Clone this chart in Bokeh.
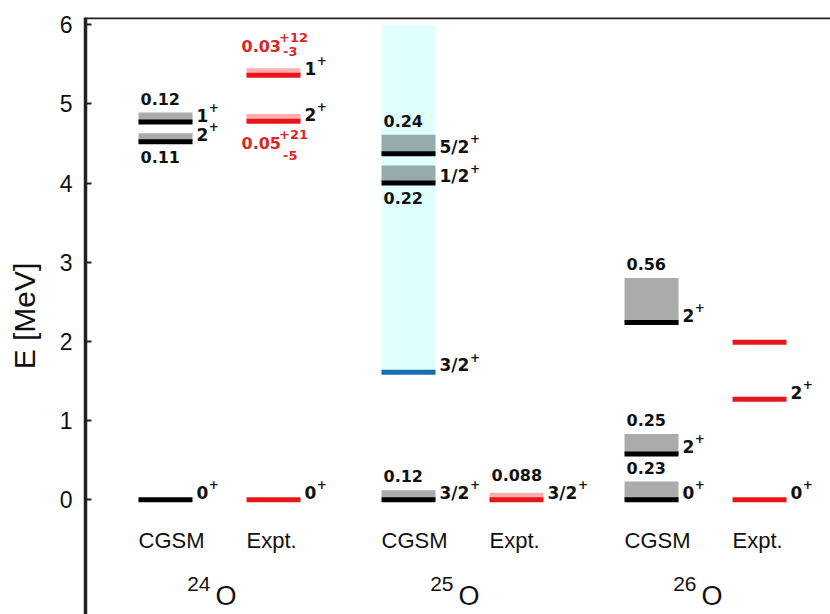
from bokeh.plotting import figure
from bokeh.models import Span, FixedTicker, Range1d
from bokeh.core.properties import value
from bokeh.embed import file_html
from bokeh.resources import INLINE

# ---- data -------------------------------------------------------------
# column centres: (24O CGSM, 24O Expt, 25O CGSM, 25O Expt, 26O CGSM, 26O Expt)
column_x = [0.0, 1.0, 2.25, 3.25, 4.5, 5.5]
column_titles = ["CGSM", "Expt.", "CGSM", "Expt.", "CGSM", "Expt."]
mass_numbers = ["24", "25", "26"]
y_ticks = [0, 1, 2, 3, 4, 5, 6]

# CGSM levels: column index, energy [MeV], width [MeV], spin
cgsm_column = [0, 0, 0, 2, 2, 2, 4, 4, 4]
cgsm_energy = [0.0, 4.52, 4.77, 0.0, 4.00, 4.37, 0.0, 0.58, 2.24]
cgsm_width = [0.0, 0.11, 0.12, 0.12, 0.22, 0.24, 0.23, 0.25, 0.56]
cgsm_spin = ["0", "2", "1", "3/2", "1/2", "5/2", "0", "2", "2"]

# broad 3/2+ resonance of 25O
broad_column = [2]
broad_energy = [1.61]
broad_width = [4.39]
broad_spin = ["3/2"]

# experimental levels
expt_column = [1, 1, 1, 3, 5, 5, 5]
expt_energy = [0.0, 4.78, 5.36, 0.0, 0.0, 1.27, 1.99]
expt_width = [0.0, 0.05, 0.03, 0.088, 0.0, 0.0, 0.0]
expt_err_up = [0, 21, 12, 0, 0, 0, 0]      # in units of the last digit
expt_err_down = [0, 5, 3, 0, 0, 0, 0]
expt_spin = ["0", "2", "1", "3/2", "0", "2", ""]

# ---- style ------------------------------------------------------------
HALF = 0.25
BOLD = "DejaVu Sans"
REG = "Liberation Sans"
INK = "#111111"
RED = "#e8161b"
RED_TXT = "#dc2626"
MIN_EXPT_BAND = 0.09          # thinnest drawn experimental width band
cgsm_label_below = {1, 4}     # width text placed under the level
expt_label_below = {1}


def text_width(s, size):
    w = {".": 0.380, "/": 0.365, "+": 0.838, "-": 0.415}
    return sum(w.get(c, 0.696) for c in s) * size


def label(x, y, text, size, font=BOLD, color=INK, x_off=0, y_off=0,
          align="left", bold=True):
    p.text(x=x, y=y, text=text, x_offset=x_off, y_offset=y_off,
           text_font=value(font), text_font_style="bold" if bold else "normal",
           text_font_size=size, text_color=color, text_align=align,
           text_baseline="middle")


p = figure(width=830, height=614, output_backend="svg", toolbar_location=None,
           x_range=Range1d(-0.7407, 6.157), y_range=Range1d(-1.448, 6.09),
           min_border_left=85, min_border_top=17, min_border_right=0,
           min_border_bottom=0)
p.outline_line_color = None
p.xaxis.visible = False
p.grid.visible = False
p.background_fill_color = "white"
p.border_fill_color = "white"

ax = p.yaxis[0]
ax.ticker = FixedTicker(ticks=y_ticks)
ax.minor_tick_line_color = None
ax.major_tick_in = 6
ax.major_tick_out = 0
ax.major_tick_line_width = 2
ax.major_tick_line_color = "#222222"
ax.axis_line_width = 3.5
ax.axis_line_color = "#222222"
ax.major_label_text_font = REG
ax.major_label_text_font_size = "23px"
ax.major_label_text_color = INK
ax.major_label_standoff = 13
ax.axis_label = "E [MeV]"
ax.axis_label_text_font = REG
ax.axis_label_text_font_style = "normal"
ax.axis_label_text_font_size = "30px"
ax.axis_label_text_color = INK
ax.axis_label_standoff = 16

p.add_layout(Span(location=6.09, dimension="width", line_color="#222222",
                  line_width=3.5))

# broad resonance band and its level
bx = [column_x[c] for c in broad_column]
p.quad(left=[x - HALF for x in bx], right=[x + HALF for x in bx],
       bottom=broad_energy, top=[e + w for e, w in zip(broad_energy, broad_width)],
       fill_color="lightcyan", line_color=None)
p.segment(x0=[x - HALF for x in bx], x1=[x + HALF for x in bx],
          y0=broad_energy, y1=broad_energy, line_color="#1a6db3", line_width=5)

# CGSM widths and levels
cx = [column_x[c] for c in cgsm_column]
gi = [i for i, w in enumerate(cgsm_width) if w > 0]
p.quad(left=[cx[i] - HALF for i in gi], right=[cx[i] + HALF for i in gi],
       bottom=[cgsm_energy[i] for i in gi],
       top=[cgsm_energy[i] + cgsm_width[i] for i in gi],
       fill_color="black", fill_alpha=0.33, line_color=None)
p.segment(x0=[x - HALF for x in cx], x1=[x + HALF for x in cx],
          y0=cgsm_energy, y1=cgsm_energy, line_color="black", line_width=5)

# experimental widths and levels
ex = [column_x[c] for c in expt_column]
ri = [i for i, w in enumerate(expt_width) if w > 0]
p.quad(left=[ex[i] - HALF for i in ri], right=[ex[i] + HALF for i in ri],
       bottom=[expt_energy[i] for i in ri],
       top=[expt_energy[i] + max(expt_width[i], MIN_EXPT_BAND) for i in ri],
       fill_color="red", fill_alpha=0.32, line_color=None)
p.segment(x0=[x - HALF for x in ex], x1=[x + HALF for x in ex],
          y0=expt_energy, y1=expt_energy, line_color=RED, line_width=5)

# spin labels  J^+
sx, sy, st, sup_off = [], [], [], []
for x, e, j in list(zip(cx, cgsm_energy, cgsm_spin)) + \
        list(zip(bx, broad_energy, broad_spin)) + \
        list(zip(ex, expt_energy, expt_spin)):
    if not j:
        continue
    sx.append(x + HALF)
    sy.append(e)
    st.append(j)
    sup_off.append(4 + text_width(j, 17) + 0.5)
label(sx, sy, st, "17px", x_off=4, y_off=-7)
label(sx, sy, ["+"] * len(st), "12px", x_off=sup_off, y_off=-15)

# width labels (black)
wx, wy, wt, wyo = [], [], [], []
for i in gi:
    wx.append(cx[i] - HALF)
    wt.append(str(cgsm_width[i]))
    if i in cgsm_label_below:
        wy.append(cgsm_energy[i])
        wyo.append(15)
    else:
        wy.append(cgsm_energy[i] + cgsm_width[i])
        wyo.append(-14)
for i in ri:
    if expt_err_up[i]:
        continue
    wx.append(ex[i] - HALF)
    wt.append(str(expt_width[i]))
    wy.append(expt_energy[i] + max(expt_width[i], MIN_EXPT_BAND))
    wyo.append(-18)
label(wx, wy, wt, "16px", x_off=2, y_off=wyo)

# measured widths with asymmetric errors (red)
for i in ri:
    if not expt_err_up[i]:
        continue
    main = str(expt_width[i])
    below = i in expt_label_below
    yo = 22 if below else -29
    x0 = [ex[i] - HALF]
    e0 = [expt_energy[i]]
    mw = -7 + text_width(main, 16)
    label(x0, e0, [main], "16px", color=RED_TXT, x_off=-5, y_off=yo)
    label(x0, e0, ["+%d" % expt_err_up[i]], "13px", color=RED_TXT,
          x_off=mw, y_off=yo - 9)
    label(x0, e0, ["-%d" % expt_err_down[i]], "13px", color=RED_TXT,
          x_off=mw + 4, y_off=yo + (12 if below else 5))

# column titles and nucleus names
label([x - HALF for x in column_x], [0.0] * len(column_x), column_titles,
      "22px", font=REG, x_off=0, y_off=41, bold=False)
mids = [(column_x[2 * k] + column_x[2 * k + 1]) / 2 for k in range(len(mass_numbers))]
label(mids, [0.0] * len(mids), ["O"] * len(mids), "27px", font=REG,
      x_off=-4, y_off=96, bold=False)
label(mids, [0.0] * len(mids), mass_numbers, "21px", font=REG,
      x_off=-9, y_off=84, align="right", bold=False)

open("out.html", "w").write(file_html(p, INLINE))
